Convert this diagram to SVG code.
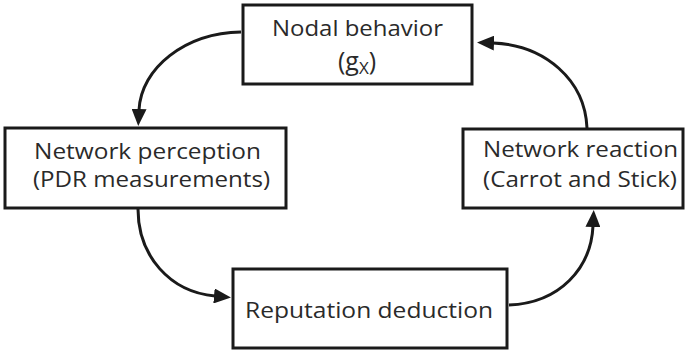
<svg xmlns="http://www.w3.org/2000/svg" width="685" height="353" viewBox="0 0 685 353">
  <defs>
    <style>
      .box { fill: #ffffff; stroke: #1a1a1a; stroke-width: 3; }
      .lbl { font-family: "Open Sans", "Noto Sans", sans-serif; font-size: 22px; fill: #2a2a2a; }
      .big { font-size: 25px; }
      .sub { font-size: 17px; }
      .conn { fill: none; stroke: #1a1a1a; stroke-width: 3; }
    </style>
    <marker id="ah" viewBox="0 0 17 15" refX="1" refY="7.5" markerWidth="17" markerHeight="15" markerUnits="userSpaceOnUse" orient="auto">
      <path d="M0,0 L17,7.5 L0,15 Z" fill="#1a1a1a"/>
    </marker>
  </defs>
  <rect width="685" height="353" fill="#ffffff"/>

  <g id="connectors">
    <path class="conn" d="M241,32 C185,33 141,68 139,110" marker-end="url(#ah)"/>
    <path class="conn" d="M138,209 C138,256 170,292 215,296" marker-end="url(#ah)"/>
    <path class="conn" d="M509,305 C560,303 591,268 593,226" marker-end="url(#ah)"/>
    <path class="conn" d="M587,128 C585,80 545,45 493,43" marker-end="url(#ah)"/>
  </g>

  <g id="nodal-behavior">
    <rect class="box" x="243" y="5" width="229" height="79"/>
    <text class="lbl" x="357.5" y="36" text-anchor="middle" textLength="171" lengthAdjust="spacingAndGlyphs">Nodal behavior</text>
    <text class="lbl big" x="357" y="70" text-anchor="middle">(g<tspan class="sub" dy="4">X</tspan><tspan dy="-4">)</tspan></text>
  </g>

  <g id="network-perception">
    <rect class="box" x="5" y="128" width="281" height="80"/>
    <text class="lbl" x="147.5" y="159" text-anchor="middle" textLength="227" lengthAdjust="spacingAndGlyphs">Network perception</text>
    <text class="lbl" x="151.5" y="187" text-anchor="middle" textLength="237" lengthAdjust="spacingAndGlyphs">(PDR measurements)</text>
  </g>

  <g id="network-reaction">
    <rect class="box" x="463" y="129" width="220" height="79"/>
    <text class="lbl" x="580.5" y="157" text-anchor="middle" textLength="195" lengthAdjust="spacingAndGlyphs">Network reaction</text>
    <text class="lbl" x="580" y="187" text-anchor="middle" textLength="194" lengthAdjust="spacingAndGlyphs">(Carrot and Stick)</text>
  </g>

  <g id="reputation-deduction">
    <rect class="box" x="233" y="269" width="274" height="79"/>
    <text class="lbl" x="369" y="318" text-anchor="middle" textLength="248" lengthAdjust="spacingAndGlyphs">Reputation deduction</text>
  </g>
</svg>
